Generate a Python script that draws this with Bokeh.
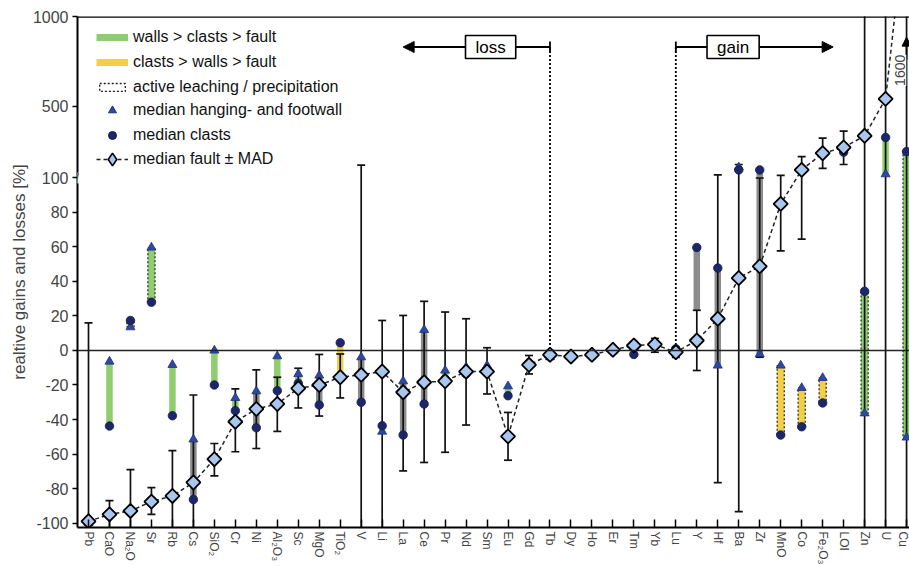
import numpy as np
from bokeh.plotting import figure
from bokeh.models import (Range1d, FixedTicker, CustomJSTickFormatter, Span, Label,
                          Arrow, NormalHead, TeeHead, Legend, LegendItem, ColumnDataSource)
from bokeh.embed import file_html
from bokeh.resources import INLINE

# ---------------- data ----------------
categories = ["Pb", "CaO", "Na₂O", "Sr", "Rb", "Cs", "SiO₂", "Cr", "Ni", "Al₂O₃",
              "Sc", "MgO", "TiO₂", "V", "Li", "La", "Ce", "Pr", "Nd", "Sm",
              "Eu", "Gd", "Tb", "Dy", "Ho", "Er", "Tm", "Yb", "Lu", "Y",
              "Hf", "Ba", "Zr", "MnO", "Co", "Fe₂O₃", "LOI", "Zn", "U", "Cu"]

fault_median = [-99, -95, -93, -87.6, -84.3, -76.5, -63, -41.3, -33.9, -31,
                -21.9, -20, -15.5, -14.1, -12.2, -24.2, -18.4, -17.8, -12.2, -12.2,
                -49.8, -8.3, -2.5, -3.5, -2.5, 0.4, 2.9, 3.5, -1, 5.8,
                18.4, 42, 48.8, 85, 145, 238, 270, 335, 541, 1600]
mad_low = [-105, -105, -105, -95, -105, -105, -72.7, -58.7, -56.8, -46.9,
           -33.3, -38, -27.5, -105, -105, -69.8, -64.9, -59, -43.2, -25.2,
           -63.6, -13.6, -4.5, -5, -4, -1.5, 0.5, -1, -4, -11.6,
           -76.6, -93.4, -3.9, 57.7, 64.5, 154, 175, -105, -105, -105]
mad_high = [16, -87, -69, -79.5, -58, -25.8, -53.9, -22.3, -11.2, -15.5,
            -10.3, -2.3, -2, 172, 17.4, 20.3, 28.5, 22.3, 18.4, 1.6,
            -35.9, -2.9, 0, -2, -1, 2, 5, 7, 2, 23.3,
            117, 175, 100, 114, 219, 322, 361, 1100, 1100, 1100]
walls_median = [-100, -6.4, 13.5, 59.7, -8.3, -51.5, 0, -27.5, -23.6, -3.3,
                -13.6, -14.5, -15, -3.9, -47, -17.8, 12, -11.6, -9.7, -8.7,
                -20.7, -7, -3.9, -3, -2.5, 0, 2, 3, -1, 5.8,
                -8.7, 160, -2, -8.7, -21.7, -15.9, 268, -36.4, 121, -50.4]
clasts_median = [-99, -43.8, 17.4, 28, -37.8, -86.4, -20, -34.9, -44.8, -23.3,
                 -19, -31.6, 4.5, -30, -43.6, -49, -31, -16.5, -13.6, -11.6,
                 -26.2, -7.4, -1.9, -3, -2.5, 0, -2.3, 2.9, 1, 59.7,
                 47.8, 145, 145, -49, -44.2, -30.4, 244, 34.3, 326, 247]
# range bars: g = walls > clasts > fault, y = clasts > walls > fault, k = other order
bar_type = ["", "g", "y", "g", "g", "k", "g", "g", "k", "g",
            "g", "k", "y", "k", "y", "k", "k", "g", "", "",
            "g", "", "", "", "", "", "", "", "", "k",
            "k", "", "k", "y", "y", "y", "", "g", "g", "g"]
bar_low = [None, -43.8, 13.5, 28, -37.8, -86.4, -20, -34.9, -44.8, -23.3,
           -19, -31.6, -15, -30, -47, -49, -31, -16.5, None, None,
           -26.2, None, None, None, None, None, None, None, None, 23.3,
           -8.7, None, -2, -49, -44.2, -30.4, None, -36.4, 121, -50.4]
bar_high = [None, -6.4, 17.4, 59.7, -8.3, -51.5, 0, -27.5, -23.6, -3.3,
            -13.6, -14.5, 4.5, -3.9, -43.6, -17.8, 12, -11.6, None, None,
            -20.7, None, None, None, None, None, None, None, None, 59.7,
            47.8, None, 145, -8.7, -21.7, -15.9, None, 34.3, 326, 247]
active_leaching = [0, 0, 1, 1, 0, 0, 0, 0, 0, 0,
                   0, 0, 0, 0, 0, 0, 0, 0, 0, 0,
                   0, 0, 0, 0, 0, 0, 0, 0, 0, 0,
                   0, 0, 0, 1, 1, 1, 0, 1, 0, 1]
y_tick_values = [-100, -80, -60, -40, -20, 0, 20, 40, 60, 80, 100, 500, 1000]
off_scale_label = "1600"
loss_level = 830

# ---------------- broken axis transform ----------------
K = 0.104  # compression of the 100..1000 section


def T(v):
    return v if v <= 100 else 100 + (v - 100) * K


FONT = "Liberation Sans"
GREEN = "#8fcd70"
YELLOW = "#f1cf47"
GREY = "#8c8c8c"
TRI = "#2e49a0"
CIRC = "#1c276a"
DIAM = "#a9c6ee"
NAN = [float("nan")]

n = len(categories)
xs = list(range(n))

p = figure(frame_width=832, frame_height=511,
           x_range=Range1d(-0.525, 39.14), y_range=Range1d(-102.6, T(1000)),
           output_backend="svg", toolbar_location=None,
           min_border_left=77, min_border_right=0, min_border_top=16, min_border_bottom=0)
p.xgrid.visible = False
p.ygrid.visible = False
p.outline_line_color = None
p.background_fill_color = "white"

# ---------------- bars ----------------
colmap = {"g": GREEN, "y": YELLOW, "k": GREY}
for dotted in (0, 1):
    bx, bt, bb, bc = [], [], [], []
    for i in range(n):
        if bar_type[i] and active_leaching[i] == dotted:
            bx.append(xs[i])
            bt.append(T(bar_high[i]))
            bb.append(T(bar_low[i]))
            bc.append(colmap[bar_type[i]])
    src = ColumnDataSource(dict(x=bx, top=bt, bottom=bb, color=bc))
    if dotted:
        p.vbar(x="x", top="top", bottom="bottom", width=0.34, fill_color="color",
               line_color="#222222", line_width=1.2, line_dash="2 2", source=src)
    else:
        p.vbar(x="x", top="top", bottom="bottom", width=0.31, fill_color="color",
               line_color=None, source=src)

# ---------------- error bars ----------------
lo_t = [T(v) for v in mad_low]
hi_t = [T(v) for v in mad_high]
p.segment(x0=xs, y0=lo_t, x1=xs, y1=hi_t, line_color="#111111", line_width=1.7)
p.scatter(x=xs + xs, y=lo_t + hi_t, marker="dash", size=8, line_color="#111111",
          line_width=1.7)

# ---------------- loss / gain annotations ----------------
i_tb = categories.index("Tb")
i_lu = categories.index("Lu")
ya = T(loss_level)
p.segment(x0=[i_tb, i_lu], y0=[ya, ya], x1=[i_tb, i_lu],
          y1=[T(fault_median[i_tb]), T(fault_median[i_lu])],
          line_color="black", line_width=1.8, line_dash="2 2")
p.add_layout(Arrow(x_start=i_tb, y_start=ya, x_end=i_tb - 7, y_end=ya, line_width=1.8,
                   start=TeeHead(size=11, line_width=1.8),
                   end=NormalHead(size=11, fill_color="black", line_color="black")))
p.add_layout(Arrow(x_start=i_lu, y_start=ya, x_end=i_lu + 7.5, y_end=ya, line_width=1.8,
                   start=TeeHead(size=11, line_width=1.8),
                   end=NormalHead(size=11, fill_color="black", line_color="black")))
for xt, txt in ((i_tb - 2.83, "loss"), (i_lu + 2.73, "gain")):
    p.add_layout(Label(x=xt, y=ya, text=txt, text_align="center", text_baseline="middle",
                       text_font=FONT, text_font_size="17px", text_color="black",
                       background_fill_color="white", border_line_color="black",
                       border_line_width=1.6, padding=(10, 2)))

# ---------------- median fault line and markers ----------------
fault_t = [T(v) for v in fault_median]
p.line(xs, fault_t, line_dash="4 3", line_width=1.5, line_color="#222222")
p.scatter(xs, [T(v) for v in walls_median], marker="triangle", size=9,
          fill_color=TRI, line_color="#1e3080", line_width=0.8)
p.scatter(xs, [T(v) for v in clasts_median], marker="circle", size=8.5,
          fill_color=CIRC, line_color="#141c52", line_width=0.8)
p.scatter(xs, fault_t, marker="square", angle=np.pi / 4, size=10,
          fill_color=DIAM, line_color="black", line_width=1.8)

# off-scale value of Cu
i_cu = categories.index("Cu")
p.add_layout(Arrow(x_start=i_cu, y_start=T(760), x_end=i_cu, y_end=T(885), line_width=1.7,
                   end=NormalHead(size=9, fill_color="black", line_color="black")))
p.add_layout(Label(x=i_cu - 0.3, y=T(700), text=off_scale_label, angle=np.pi / 2,
                   text_align="center", text_baseline="middle",
                   text_font=FONT, text_font_size="14px",
                   background_fill_color="white", padding=(0, 1)))

# reference lines
p.add_layout(Span(location=0, dimension="width", line_color="#222222", line_width=1.6))
p.add_layout(Span(location=T(1000), dimension="width", line_color="black", line_width=2.5))

# axis break mark
p.add_layout(Label(x=-0.525, y=100, text="/", text_align="center", text_baseline="middle",
                   text_font=FONT, text_font_size="10px", text_color="black",
                   background_fill_color="white", padding=0))

# ---------------- axes ----------------
yax = p.yaxis[0]
yax.ticker = FixedTicker(ticks=[T(v) for v in y_tick_values])
yax.formatter = CustomJSTickFormatter(args=dict(k=K), code="""
    const v = tick <= 100.0001 ? tick : 100 + (tick - 100) / k;
    return v.toFixed(0);
""")
yax.axis_label = "realtive gains and losses [%]"
yax.axis_label_text_font = FONT
yax.axis_label_text_font_size = "17px"
yax.axis_label_text_font_style = "normal"
yax.axis_label_standoff = 1
yax.major_label_text_font = FONT
yax.major_label_text_font_size = "16px"
yax.major_label_standoff = 4
yax.major_tick_in = 0
yax.major_tick_out = 5
yax.minor_tick_line_color = None
yax.axis_line_width = 2
yax.major_tick_line_width = 1.5

xax = p.xaxis[0]
xax.ticker = FixedTicker(ticks=xs)
xax.major_label_overrides = {i: c for i, c in enumerate(categories)}
xax.major_label_orientation = "vertical"
xax.major_label_text_font = FONT
xax.major_label_text_font_size = "12px"
xax.major_label_standoff = 4
xax.major_tick_in = 8
xax.major_tick_out = 0
xax.minor_tick_line_color = None
xax.axis_line_width = 2
xax.major_tick_line_width = 1.5

# ---------------- legends ----------------
lg_green = p.line(NAN, NAN, line_color=GREEN, line_width=7)
lg_yellow = p.line(NAN, NAN, line_color=YELLOW, line_width=7)
lg_dot = p.quad(left=NAN, right=NAN, top=NAN, bottom=NAN, fill_color=None,
                line_color="#222222", line_width=1.3, line_dash="2 2")
lg_tri = p.scatter(NAN, NAN, marker="triangle", fill_color=TRI, line_color="#1e3080")
lg_circ = p.scatter(NAN, NAN, marker="circle", fill_color=CIRC, line_color="#141c52")
lg_line = p.line(NAN, NAN, line_dash="4 3", line_width=1.5, line_color="#222222")
lg_diam = p.scatter(NAN, NAN, marker="diamond", fill_color=DIAM, line_color="black",
                    line_width=1.6)


def make_legend(items, gh, loc):
    lg = Legend(items=items, location=loc, glyph_width=32, glyph_height=gh,
                label_height=20, spacing=5, padding=0, margin=0, label_standoff=5,
                label_text_font=FONT, label_text_font_size="16px",
                label_text_color="#111111", border_line_color=None,
                background_fill_alpha=0)
    p.add_layout(lg, "center")


make_legend([LegendItem(label="walls > clasts > fault", renderers=[lg_green]),
             LegendItem(label="clasts > walls > fault", renderers=[lg_yellow]),
             LegendItem(label="active leaching / precipitation", renderers=[lg_dot])],
            10, (19, 430))
make_legend([LegendItem(label="median hanging- and footwall", renderers=[lg_tri]),
             LegendItem(label="median clasts", renderers=[lg_circ])],
            20, (19, 382))
make_legend([LegendItem(label="median fault ± MAD", renderers=[lg_line, lg_diam])],
            32, (19, 352))

open("out.html", "w").write(file_html(p, INLINE))
